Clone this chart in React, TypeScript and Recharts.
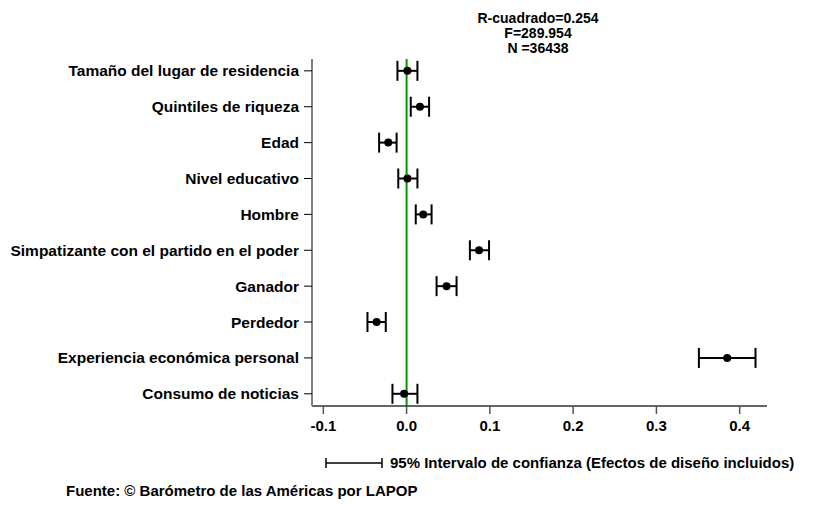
import {
  ComposedChart,
  Scatter,
  ErrorBar,
  XAxis,
  YAxis,
  ReferenceLine,
} from "recharts";

const categories = [
  "Tamaño del lugar de residencia",
  "Quintiles de riqueza",
  "Edad",
  "Nivel educativo",
  "Hombre",
  "Simpatizante con el partido en el poder",
  "Ganador",
  "Perdedor",
  "Experiencia económica personal",
  "Consumo de noticias",
];

const coefficients = [0.001, 0.016, -0.022, 0.001, 0.02, 0.087, 0.048, -0.036, 0.385, -0.003];
const ciLow = [-0.011, 0.005, -0.033, -0.01, 0.011, 0.076, 0.036, -0.047, 0.351, -0.017];
const ciHigh = [0.013, 0.027, -0.012, 0.013, 0.03, 0.099, 0.06, -0.025, 0.419, 0.013];

const xTicks = [-0.1, 0, 0.1, 0.2, 0.3, 0.4];
const statLines = ["R-cuadrado=0.254", "F=289.954", "N =36438"];

const data = categories.map((name, i) => ({
  name,
  idx: i,
  value: coefficients[i],
  err: [coefficients[i] - ciLow[i], ciHigh[i] - coefficients[i]],
}));

const FONT = "'Liberation Sans', Arial, sans-serif";
const yTickStyle = { fontSize: 15.5, fontWeight: 700, fill: "#000", fontFamily: FONT };
const xTickStyle = { fontSize: 15, fontWeight: 700, fill: "#000", fontFamily: FONT };

const Dot = (props: any) => <circle cx={props.cx} cy={props.cy} r={4} fill="#000" />;

export default function App() {
  return (
    <div style={{ position: "absolute", left: 0, top: 0, width: 814, height: 510, background: "#fff" }}>
      <ComposedChart
        width={814}
        height={510}
        data={data}
        margin={{ top: 59, right: 47, left: 12, bottom: 64 }}
      >
        <XAxis
          type="number"
          dataKey="value"
          domain={[-0.1136, 0.4328]}
          ticks={xTicks}
          allowDataOverflow
          tickFormatter={(v: number) => v.toFixed(1)}
          tick={xTickStyle}
          tickSize={8}
          tickMargin={6}
          height={40}
          axisLine={{ stroke: "#333", strokeWidth: 1.5 }}
          tickLine={{ stroke: "#555", strokeWidth: 1.5 }}
        />
        <YAxis
          type="number"
          dataKey="idx"
          domain={[-0.33, 9.34]}
          reversed
          ticks={categories.map((_, i) => i)}
          tickFormatter={(i: number) => categories[i] ?? ""}
          interval={0}
          tick={yTickStyle}
          tickSize={8}
          tickMargin={5}
          width={300}
          axisLine={{ stroke: "#808080", strokeWidth: 2 }}
          tickLine={{ stroke: "#000", strokeWidth: 1 }}
        />
        <ReferenceLine x={0} stroke="#009900" strokeWidth={2} />
        <Scatter data={data} dataKey="value" shape={Dot} isAnimationActive={false}>
          <ErrorBar dataKey="err" direction="x" width={10} stroke="#000" strokeWidth={2} />
        </Scatter>
      </ComposedChart>
      <svg
        width={814}
        height={510}
        style={{ position: "absolute", left: 0, top: 0, pointerEvents: "none" }}
      >
        {statLines.map((t, i) => (
          <text
            key={t}
            x={538}
            y={23 + i * 15}
            textAnchor="middle"
            fontFamily={FONT}
            fontWeight={700}
            fontSize={14}
          >
            {t}
          </text>
        ))}
        <g stroke="#000" strokeWidth={1.5}>
          <line x1={326} y1={463} x2={382} y2={463} />
          <line x1={326} y1={458} x2={326} y2={468} />
          <line x1={382} y1={458} x2={382} y2={468} />
        </g>
        <text x={390} y={468} fontFamily={FONT} fontWeight={700} fontSize={15}>
          95% Intervalo de confianza (Efectos de diseño incluidos)
        </text>
        <text x={66} y={496} fontFamily={FONT} fontWeight={700} fontSize={15}>
          Fuente: © Barómetro de las Américas por LAPOP
        </text>
      </svg>
    </div>
  );
}
